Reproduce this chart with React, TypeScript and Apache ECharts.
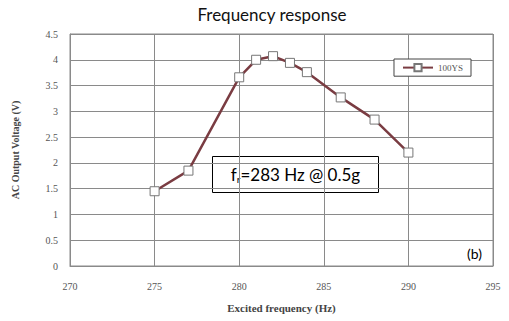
import React, { useEffect, useRef } from "react";
import * as echarts from "echarts";

// Excited frequency (Hz) and measured AC output voltage (V)
const frequencies = [275, 277, 280, 281, 282, 283, 284, 286, 288, 290];
const voltages = [1.45, 1.85, 3.66, 4.0, 4.07, 3.94, 3.76, 3.27, 2.84, 2.2];
const seriesName = "100YS";
const titleText = "Frequency response";
const noteText = "283 Hz @ 0.5g";
const panelLabel = "(b)";

export default function App() {
  const ref = useRef<HTMLDivElement>(null);

  useEffect(() => {
    if (!ref.current) return;
    const chart = echarts.init(ref.current, null, { renderer: "svg" });
    const serif = "Liberation Serif";
    const sans = "Lato";
    const gridColor = "#8a8a8a";
    chart.setOption({
      animation: false,
      backgroundColor: "#ffffff",
      title: {
        text: titleText,
        left: 267,
        top: 1,
        textAlign: "center",
        textStyle: {
          fontFamily: sans,
          fontSize: 17,
          fontWeight: "normal",
          color: "#111",
        },
      },
      grid: {
        left: 70,
        right: 16,
        top: 34,
        bottom: 55,
        show: true,
        borderColor: gridColor,
        borderWidth: 1,
      },
      legend: {
        right: 38,
        top: 59,
        itemWidth: 30,
        itemHeight: 9,
        itemGap: 4,
        padding: [4, 8],
        borderColor: "#444",
        borderWidth: 1,
        backgroundColor: "#fff",
        textStyle: { fontFamily: serif, fontSize: 9, color: "#555" },
        data: [seriesName],
      },
      xAxis: {
        type: "value",
        min: 270,
        max: 295,
        interval: 5,
        name: "Excited frequency (Hz)",
        nameLocation: "middle",
        nameGap: 36,
        nameTextStyle: { fontFamily: serif, fontSize: 11, fontWeight: "bold", color: "#444" },
        axisLine: { show: true, lineStyle: { color: gridColor } },
        axisTick: { show: false },
        axisLabel: { fontFamily: serif, fontSize: 10, color: "#555", margin: 15 },
        splitLine: { show: true, lineStyle: { color: gridColor, width: 1 } },
      },
      yAxis: {
        type: "value",
        min: 0,
        max: 4.5,
        interval: 0.5,
        name: "AC Output Voltage (V)",
        nameLocation: "middle",
        nameGap: 50,
        nameTextStyle: { fontFamily: serif, fontSize: 10, fontWeight: "bold", color: "#444" },
        axisLine: { show: true, lineStyle: { color: gridColor } },
        axisTick: { show: false },
        axisLabel: { fontFamily: serif, fontSize: 10, color: "#555", margin: 12 },
        splitLine: { show: true, lineStyle: { color: gridColor, width: 1 } },
      },
      series: [
        {
          name: seriesName,
          type: "line",
          data: frequencies.map((f, i) => [f, voltages[i]]),
          symbol: "rect",
          symbolSize: 9,
          lineStyle: { color: "#7a3c42", width: 2.5 },
          itemStyle: { color: "#ffffff", borderColor: "#777", borderWidth: 1 },
        },
      ],
      graphic: [
        {
          type: "group",
          left: 212,
          top: 156,
          children: [
            {
              type: "rect",
              shape: { x: 0, y: 0, width: 166, height: 36 },
              style: { fill: "#fff", stroke: "#000", lineWidth: 1 },
            },
            {
              type: "text",
              x: 83,
              y: 18,
              style: {
                text: "{f|f}{s|r}{f|=" + noteText + "}",
                align: "center",
                verticalAlign: "middle",
                rich: {
                  f: { fontFamily: sans, fontSize: 17, fill: "#000" },
                  s: { fontFamily: sans, fontSize: 10, fill: "#000", padding: [9, 0, 0, 0] },
                },
              },
            },
          ],
        },
        {
          type: "text",
          left: 467,
          top: 246,
          style: { text: panelLabel, fontFamily: sans, fontSize: 14, fill: "#000" },
        },
      ],
    });
    return () => chart.dispose();
  }, []);

  return (
    <div
      ref={ref}
      style={{ position: "fixed", left: 0, top: 0, width: 509, height: 321 }}
    />
  );
}
